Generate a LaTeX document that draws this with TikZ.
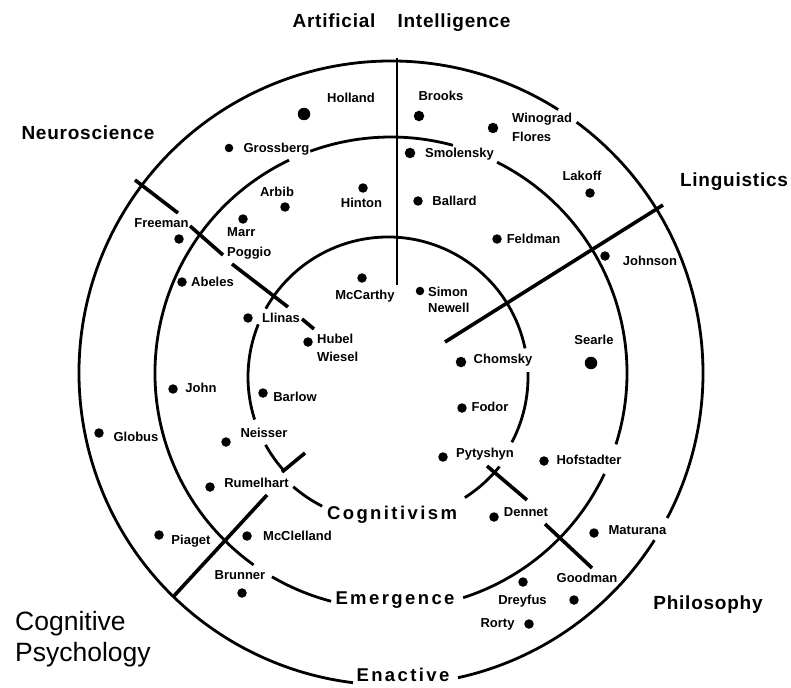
\documentclass[tikz,border=0pt]{standalone}
\usepackage{fontspec}
\setmainfont{Liberation Sans}
\newfontfamily\ringfont{Liberation Sans}[LetterSpace=13]
\newfontfamily\regionfont{Liberation Sans}[LetterSpace=4]
\begin{document}
\begin{tikzpicture}[x=1pt,y=1pt,
  circ/.style={line width=2.8pt},
  divline/.style={line width=3.6pt},
  dotnode/.style={circle,fill=black,inner sep=0pt,minimum size=9.5pt},
  bigdot/.style={dotnode,minimum size=12.5pt},
  nm/.style={font=\bfseries\fontsize{13}{14}\selectfont,inner sep=0pt,text height=9.3pt,text depth=0pt},
  ring/.style={font=\ringfont\bfseries\fontsize{18.5}{20}\selectfont,inner sep=0pt,text height=13.3pt,text depth=0pt},
  region/.style={font=\regionfont\bfseries\fontsize{19}{21}\selectfont,inner sep=0pt,text height=13.7pt,text depth=0pt},
  psy/.style={font=\fontsize{26.5}{28}\selectfont,inner sep=0pt,text height=19pt,text depth=0pt,anchor=west}]
\fill[white] (0,0) rectangle (791,-687);
\useasboundingbox (0,0) rectangle (791,-687);

\coordinate (co) at (391,-373);
\coordinate (ci) at (388,-377);

% outer circle (Enactive)
\draw[circ] (co) ++(57.6:312) arc[start angle=57.6,end angle=263,radius=312];
\draw[circ] (co) ++(53.5:312) arc[start angle=53.5,end angle=-27.7,radius=312];
\draw[circ] (co) ++(-32.4:312) arc[start angle=-32.4,end angle=-77.6,radius=312];

% middle circle (Emergence)
\draw[circ] (co) ++(74.8:236) arc[start angle=74.8,end angle=110,radius=236];
\draw[circ] (co) ++(115.6:236) arc[start angle=115.6,end angle=234.4,radius=236];
\draw[circ] (co) ++(239.7:236) arc[start angle=239.7,end angle=255.3,radius=236];
\draw[circ] (co) ++(-72.2:236) arc[start angle=-72.2,end angle=-25.3,radius=236];
\draw[circ] (co) ++(-17.6:236) arc[start angle=-17.6,end angle=63.3,radius=236];

% inner circle (Cognitivism)
\draw[circ] (ci) ++(11.8:140) arc[start angle=11.8,end angle=150.8,radius=140];
\draw[circ] (ci) ++(-27.8:140) arc[start angle=-27.8,end angle=2,radius=140];
\draw[circ] (ci) ++(157.9:140) arc[start angle=157.9,end angle=197.7,radius=140];
\draw[circ] (ci) ++(209:140) arc[start angle=209,end angle=221.9,radius=140];
\draw[circ] (ci) ++(229.2:145) arc[start angle=229.2,end angle=243,radius=145];
\draw[circ] (ci) ++(-57.5:143) arc[start angle=-57.5,end angle=-38.8,radius=143];

% dividing lines
\draw[circ] (397,-58) -- (397,-285);
\draw[divline] (135,-180) -- (178,-213);
\draw[divline] (190,-226) -- (223,-255);
\draw[divline] (232,-264) -- (288,-307);
\draw[divline] (302,-319) -- (314,-329);
\draw[divline] (663,-205) -- (445,-342);
\draw[divline] (173,-597) -- (267,-495);
\draw[divline] (282,-472) -- (305,-453);
\draw[divline] (487,-466) -- (527,-500);
\draw[divline] (545,-524) -- (592,-568);

% region labels
\node[region] (ai1) at (334,-21) {Artificial};
\node[region] (ai2) at (454,-21) {Intelligence};
\node[region] (neuro) at (88,-133) {Neuroscience};
\node[region] (ling) at (734,-180) {Linguistics};
\node[region] (phil) at (708,-603) {Philosophy};
\node[psy] (cog1) at (15,-621) {Cognitive};
\node[psy] (cog2) at (15,-652) {Psychology};

% ring labels
\node[ring] (cognitivism) at (392,-513) {Cognitivism};
\node[ring] (emergence) at (395,-598) {Emergence};
\node[ring] (enactive) at (403,-675) {Enactive};

% dots
\node[bigdot] (dHolland) at (304,-114) {};
\node[dotnode,minimum size=10.5pt] (dBrooks) at (419,-116) {};
\node[dotnode,minimum size=10.5pt] (dWinograd) at (493,-128) {};
\node[dotnode,minimum size=8.5pt] (dGrossberg) at (229,-148) {};
\node[dotnode,minimum size=10.5pt] (dSmolensky) at (410,-153) {};
\node[dotnode] (dArbib) at (285,-207) {};
\node[dotnode] (dHinton) at (363,-188) {};
\node[dotnode] (dBallard) at (418,-201) {};
\node[dotnode] (dLakoff) at (590,-193) {};
\node[dotnode] (dFeldman) at (497,-239) {};
\node[dotnode] (dFreeman) at (179,-239) {};
\node[dotnode] (dMarr) at (243,-219) {};
\node[dotnode] (dAbeles) at (182,-282) {};
\node[dotnode] (dMcCarthy) at (362,-278) {};
\node[dotnode,minimum size=8.5pt] (dSimon) at (420,-291) {};
\node[dotnode] (dJohnson) at (605,-256) {};
\node[dotnode] (dLlinas) at (248,-318) {};
\node[dotnode] (dHubel) at (308,-342) {};
\node[bigdot] (dSearle) at (591,-363) {};
\node[dotnode,minimum size=10.5pt] (dChomsky) at (461,-362) {};
\node[dotnode] (dJohn) at (173,-389) {};
\node[dotnode] (dBarlow) at (263,-393) {};
\node[dotnode] (dFodor) at (462,-408) {};
\node[dotnode] (dGlobus) at (99,-433) {};
\node[dotnode] (dNeisser) at (226,-442) {};
\node[dotnode] (dPytyshyn) at (443,-457) {};
\node[dotnode] (dHofstadter) at (544,-461) {};
\node[dotnode] (dRumelhart) at (210,-487) {};
\node[dotnode] (dDennet) at (494,-517) {};
\node[dotnode] (dPiaget) at (159,-535) {};
\node[dotnode] (dMcClelland) at (247,-536) {};
\node[dotnode] (dMaturana) at (594,-533) {};
\node[dotnode] (dBrunner) at (242,-593) {};
\node[dotnode] (dGoodman) at (574,-600) {};
\node[dotnode] (dDreyfus) at (523,-582) {};
\node[dotnode] (dRorty) at (529,-624) {};

% name labels
\node[nm] (Holland) at (351,-98) {Holland};
\node[nm] (Brooks) at (441,-96) {Brooks};
\node[nm,anchor=west] (Winograd) at (512,-118) {Winograd};
\node[nm,anchor=west] (Flores) at (512,-137) {Flores};
\node[nm] (Grossberg) at (276.5,-148) {Grossberg};
\node[nm] (Smolensky) at (459.5,-153) {Smolensky};
\node[nm] (Arbib) at (277,-192) {Arbib};
\node[nm] (Hinton) at (361.5,-203) {Hinton};
\node[nm] (Ballard) at (454.5,-201) {Ballard};
\node[nm] (Lakoff) at (582,-176) {Lakoff};
\node[nm] (Feldman) at (533.5,-239) {Feldman};
\node[nm] (Freeman) at (161.5,-223) {Freeman};
\node[nm,anchor=west] (Marr) at (227,-232) {Marr};
\node[nm,anchor=west] (Poggio) at (227,-252) {Poggio};
\node[nm] (Abeles) at (212.5,-282) {Abeles};
\node[nm] (McCarthy) at (365,-295) {McCarthy};
\node[nm,anchor=west] (Simon) at (428,-292) {Simon};
\node[nm,anchor=west] (Newell) at (428,-308) {Newell};
\node[nm] (Johnson) at (650,-261) {Johnson};
\node[nm] (Llinas) at (281,-318) {Llinas};
\node[nm,anchor=west] (Hubel) at (317,-339) {Hubel};
\node[nm,anchor=west] (Wiesel) at (317,-357) {Wiesel};
\node[nm] (Searle) at (594,-340) {Searle};
\node[nm] (Chomsky) at (503,-359) {Chomsky};
\node[nm] (John) at (201,-388) {John};
\node[nm] (Barlow) at (295,-397) {Barlow};
\node[nm] (Fodor) at (490,-407) {Fodor};
\node[nm] (Globus) at (136,-437) {Globus};
\node[nm] (Neisser) at (264,-433) {Neisser};
\node[nm] (Pytyshyn) at (485,-453) {Pytyshyn};
\node[nm] (Hofstadter) at (589,-460) {Hofstadter};
\node[nm] (Rumelhart) at (256.5,-483) {Rumelhart};
\node[nm] (Dennet) at (526,-512) {Dennet};
\node[nm] (Piaget) at (191,-540) {Piaget};
\node[nm] (McClelland) at (297.5,-536) {McClelland};
\node[nm] (Maturana) at (637.5,-530) {Maturana};
\node[nm] (Brunner) at (240,-575) {Brunner};
\node[nm] (Goodman) at (587,-578) {Goodman};
\node[nm] (Dreyfus) at (522.5,-600) {Dreyfus};
\node[nm] (Rorty) at (497.5,-623) {Rorty};
\end{tikzpicture}
\end{document}
